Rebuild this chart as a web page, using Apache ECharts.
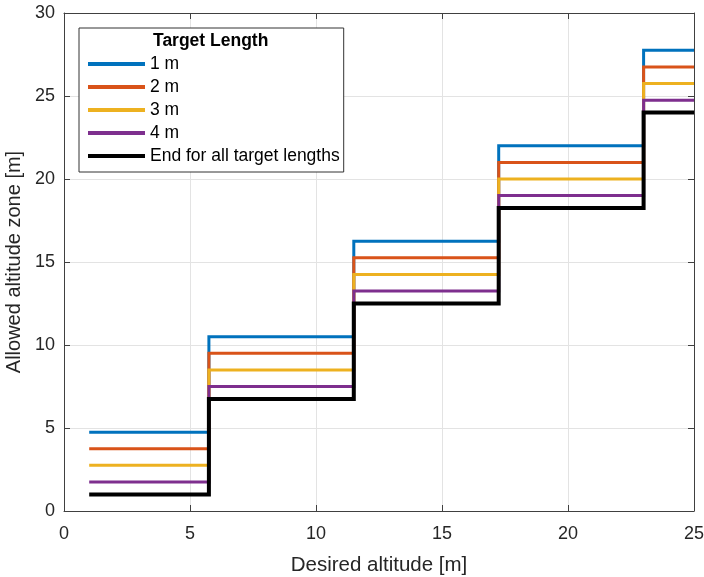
<!DOCTYPE html>
<html>
<head>
<meta charset="utf-8">
<script src="https://cdn.jsdelivr.net/npm/echarts@6/dist/echarts.min.js"></script>
<style>html,body{margin:0;padding:0;background:#fff}#c{width:704px;height:577px}</style>
</head>
<body>
<div id="c"></div>
<script>
const xSteps = [1, 5.75, 11.5, 17.25, 23, 25];
const len1 = [4.75, 10.5, 16.25, 22, 27.75, 27.75];
const len2 = [3.75, 9.5, 15.25, 21, 26.75, 26.75];
const len3 = [2.75, 8.5, 14.25, 20, 25.75, 25.75];
const len4 = [1.75, 7.5, 13.25, 19, 24.75, 24.75];
const endAll = [1, 6.75, 12.5, 18.25, 24, 24];
const seriesNames = ['1 m', '2 m', '3 m', '4 m', 'End for all target lengths'];
const seriesValues = [len1, len2, len3, len4, endAll];
const colors = ['#0072BD', '#D95319', '#EDB120', '#7E2F8E', '#000000'];
const widths = [3, 3, 3, 3, 4];

const FONT = '"Liberation Sans", Arial, sans-serif';
const axisCol = '#404040';

const chart = echarts.init(document.getElementById('c'), null, {renderer: 'canvas'});

const baseAxis = (extra) => Object.assign({
  type: 'value',
  axisLine: {show: true, onZero: false, lineStyle: {color: axisCol, width: 1}},
  axisTick: {show: true, inside: true, length: 6, lineStyle: {color: axisCol}},
  splitLine: {show: false},
  axisLabel: {show: false}
}, extra);

chart.setOption({
  animation: false,
  textStyle: {fontFamily: FONT},
  grid: {left: 64, right: 10, top: 13, bottom: 66, containLabel: false, outerBoundsMode: 'none'},
  title: {
    text: 'Target Length',
    left: 153, top: 32, padding: 0,
    textStyle: {fontFamily: FONT, fontSize: 17.5, fontWeight: 'bold', color: '#000'}
  },
  legend: {
    orient: 'vertical',
    left: 79, top: 28,
    padding: [27, 4, 7, 9],
    backgroundColor: '#fff',
    borderColor: '#333',
    borderWidth: 1,
    borderRadius: 0,
    icon: 'rect',
    itemWidth: 57,
    itemHeight: 4,
    itemGap: 5,
    textStyle: {fontFamily: FONT, fontSize: 17.5, color: '#000', lineHeight: 18},
    data: seriesNames
  },
  xAxis: [
    baseAxis({
      min: 0, max: 25, interval: 5, position: 'bottom',
      name: 'Desired altitude [m]', nameLocation: 'middle', nameGap: 44,
      nameTextStyle: {fontFamily: FONT, fontSize: 20.5, color: '#262626'},
      splitLine: {show: true, lineStyle: {color: '#e3e3e3', width: 1}},
      axisLabel: {show: true, margin: 14, fontFamily: FONT, fontSize: 18, color: '#262626'}
    }),
    baseAxis({min: 0, max: 25, interval: 5, position: 'top'})
  ],
  yAxis: [
    baseAxis({
      min: 0, max: 30, interval: 5, position: 'left',
      name: 'Allowed altitude zone [m]', nameLocation: 'middle', nameGap: 35,
      nameTextStyle: {fontFamily: FONT, fontSize: 20, color: '#262626'},
      splitLine: {show: true, lineStyle: {color: '#e3e3e3', width: 1}},
      axisLabel: {show: true, margin: 9, fontFamily: FONT, fontSize: 18, color: '#262626'}
    }),
    baseAxis({min: 0, max: 30, interval: 5, position: 'right'})
  ],
  series: seriesNames.map((n, i) => ({
    name: n,
    type: 'line',
    step: 'end',
    xAxisIndex: 0,
    yAxisIndex: 0,
    symbol: 'none',
    color: colors[i],
    lineStyle: {color: colors[i], width: widths[i], join: 'miter'},
    z: 2 + i,
    data: xSteps.map((x, k) => [x, seriesValues[i][k]])
  }))
});
</script>
</body>
</html>
